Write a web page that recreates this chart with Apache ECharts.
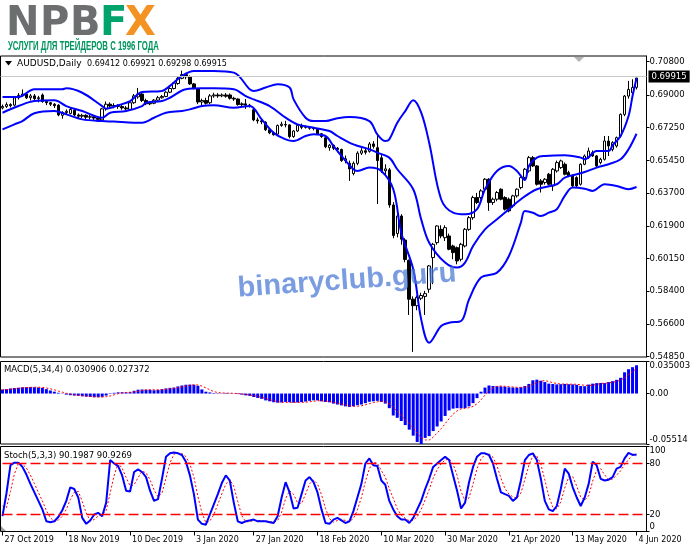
<!DOCTYPE html>
<html><head><meta charset="utf-8"><title>AUDUSD Daily</title>
<script src="https://cdn.jsdelivr.net/npm/echarts@6/dist/echarts.min.js"></script>
<style>html,body{margin:0;padding:0;background:#fff;overflow:hidden}#chart{width:691px;height:549px}</style>
</head><body><div id="chart"></div><script>
// ---------- data ----------
const tickLabels = ['27 Oct 2019','18 Nov 2019','10 Dec 2019','3 Jan 2020','27 Jan 2020','18 Feb 2020','10 Mar 2020','30 Mar 2020','21 Apr 2020','13 May 2020','4 Jun 2020'];
const tickIndex = [0,16,32,48,63,79,95,111,127,143,159];
const priceTicks = [0.5485,0.566,0.584,0.6015,0.619,0.637,0.6545,0.6725,0.690,0.708];
const macdTicks = [-0.05514,0,0.035003];
const macdTickText = ['-0.05514','0.00','0.035003'];
const stochTicks = [0,20,80,100];
const stochLevels = [20,80];
const lastClose = 0.69915;

const opens = [
.6830,.6838,.6848,.6845,.6885,.6898,.6905,.6885,.6895,.6880,
.6900,.6865,.6858,.6850,.6845,.6790,.6805,.6800,.6818,.6792,
.6785,.6790,.6780,.6782,.6775,.6765,.6825,.6850,.6840,.6843,
.6838,.6830,.6822,.6858,.6890,.6905,.6870,.6852,.6855,.6872,
.6885,.6892,.6915,.6935,.6962,.6990,.7010,.6998,.6960,.6932,
.6862,.6870,.6858,.6895,.6900,.6895,.6900,.6900,.6882,.6878,
.6848,.6852,.6845,.6820,.6765,.6760,.6752,.6712,.6695,.6688,
.6735,.6740,.6738,.6675,.6705,.6735,.6725,.6725,.6720,.6715,
.6690,.6668,.6615,.6628,.6612,.6605,.6545,.6530,.6475,.6530,
.6585,.6598,.6595,.6635,.6615,.6560,.6490,.6495,.6305,.6150,
.6245,.6115,.6005,.5795,.5760,.5800,.5810,.5849,.6020,.6101,
.6173,.6128,.6137,.6083,.6074,.6011,.6083,.6173,.6236,.6345,
.6345,.6390,.6444,.6318,.6336,.6390,.6345,.6336,.6300,.6354,
.6399,.6453,.6489,.6561,.6516,.6435,.6426,.6471,.6408,.6489,
.6507,.6525,.6480,.6462,.6453,.6417,.6525,.6561,.6588,.6570,
.6534,.6552,.6651,.6606,.6624,.6678,.6795,.6894,.6912,.69412];
const highs = [
.6848,.6860,.6855,.6895,.6910,.6930,.6915,.6905,.6905,.6895,
.6908,.6870,.6862,.6856,.6850,.6812,.6822,.6830,.6825,.6800,
.6798,.6795,.6792,.6790,.6782,.6830,.6865,.6860,.6855,.6850,
.6848,.6840,.6862,.6905,.6938,.6910,.6880,.6866,.6878,.6895,
.6900,.6920,.6942,.6970,.6998,.7032,.7018,.7005,.6965,.6935,
.6880,.6885,.6905,.6912,.6910,.6908,.6910,.6908,.6890,.6882,
.6860,.6878,.6852,.6825,.6778,.6770,.6758,.6718,.6702,.6740,
.6755,.6760,.6742,.6710,.6742,.6745,.6735,.6732,.6728,.6720,
.6695,.6672,.6635,.6632,.6618,.6610,.6572,.6545,.6540,.6595,
.6612,.6615,.6645,.6650,.6685,.6575,.6525,.6505,.6320,.6260,
.6255,.6125,.6010,.5810,.5815,.5830,.5840,.5980,.6100,.6195,
.6195,.6195,.6150,.6090,.6080,.6100,.6180,.6245,.6355,.6370,
.6390,.6450,.6450,.6345,.6380,.6395,.6352,.6345,.6360,.6395,
.6460,.6505,.6570,.6570,.6520,.6445,.6450,.6478,.6505,.6545,
.6550,.6535,.6490,.6470,.6460,.6530,.6578,.6615,.6600,.6575,
.6560,.6678,.6678,.6650,.6675,.6800,.6900,.6976,.6985,.69921];
const lows = [
.6822,.6830,.6832,.6838,.6875,.6890,.6878,.6870,.6865,.6860,
.6858,.6845,.6840,.6830,.6785,.6772,.6795,.6795,.6785,.6770,
.6775,.6770,.6768,.6765,.6755,.6755,.6815,.6830,.6828,.6825,
.6820,.6815,.6815,.6852,.6880,.6862,.6845,.6845,.6850,.6866,
.6880,.6888,.6910,.6930,.6955,.6985,.6985,.6955,.6930,.6850,
.6845,.6848,.6850,.6885,.6885,.6888,.6885,.6875,.6868,.6842,
.6840,.6825,.6832,.6758,.6745,.6742,.6705,.6688,.6680,.6683,
.6728,.6725,.6665,.6668,.6700,.6715,.6718,.6712,.6708,.6685,
.6668,.6612,.6598,.6602,.6590,.6538,.6530,.6435,.6465,.6520,
.6575,.6578,.6588,.6610,.6310,.6478,.6465,.6290,.6125,.6130,
.6090,.5995,.5710,.5510,.5735,.5790,.5710,.5830,.5876,.6090,
.6125,.6110,.6060,.6011,.5984,.6000,.6075,.6165,.6225,.6310,
.6335,.6380,.6273,.6305,.6325,.6330,.6275,.6265,.6290,.6345,
.6390,.6445,.6480,.6510,.6410,.6372,.6415,.6410,.6381,.6480,
.6500,.6465,.6455,.6400,.6400,.6410,.6520,.6555,.6565,.6510,
.6525,.6545,.6570,.6595,.6615,.6670,.6785,.6880,.6895,.69298];
const closes = [
.6838,.6848,.6842,.6885,.6898,.6905,.6885,.6895,.6880,.6885,
.6865,.6858,.6850,.6842,.6792,.6805,.6812,.6822,.6792,.6785,
.6790,.6780,.6782,.6775,.6768,.6825,.6850,.6840,.6843,.6838,
.6830,.6825,.6858,.6895,.6905,.6870,.6852,.6856,.6872,.6885,
.6892,.6915,.6935,.6965,.6990,.7010,.6998,.6960,.6935,.6862,
.6870,.6855,.6895,.6900,.6895,.6900,.6893,.6882,.6878,.6848,
.6852,.6845,.6840,.6765,.6760,.6755,.6712,.6695,.6685,.6735,
.6742,.6738,.6675,.6705,.6735,.6725,.6728,.6720,.6718,.6690,
.6675,.6620,.6628,.6612,.6605,.6545,.6555,.6500,.6530,.6585,
.6598,.6590,.6635,.6622,.6545,.6490,.6500,.6305,.6140,.6245,
.6120,.6010,.5795,.5760,.5805,.5815,.5825,.5975,.6092,.6191,
.6137,.6182,.6065,.6047,.6002,.6092,.6173,.6236,.6345,.6318,
.6381,.6444,.6318,.6336,.6372,.6336,.6282,.6273,.6354,.6390,
.6453,.6498,.6561,.6516,.6417,.6417,.6444,.6417,.6498,.6534,
.6543,.6471,.6462,.6408,.6408,.6525,.6570,.6597,.6570,.6516,
.6552,.6651,.6624,.6642,.6669,.6795,.6894,.6930,.6940,.69915];

// Bollinger bands, points: [bar index, price]
const upperBand = [[0,.6889],[4,.6889],[8,.6931],[12,.6931],[15,.6931],[16,.6936],[20,.6912],[25,.6840],[26,.6826],[29,.6844],[32,.6867],[35,.6916],[40,.6922],[42,.6949],[45,.7003],[48,.7030],[53,.7030],[58,.7021],[62,.6931],[63,.6922],[66,.6940],[69,.6958],[72,.6940],[73,.6876],[76,.6777],[78,.6759],[81,.6759],[84,.6774],[87,.6781],[92,.6759],[94,.6687],[96,.6651],[97,.6660],[99,.6750],[101,.6813],[103,.6871],[105,.6804],[107,.6642],[110,.6336],[113,.6263],[116,.6254],[119,.6282],[121,.6390],[124,.6489],[127,.6516],[129,.6489],[131,.6440],[132,.6516],[134,.6561],[136,.6570],[141,.6574],[145,.6561],[146,.6552],[149,.6597],[152,.6597],[153,.6628],[155,.6678],[157,.6786],[158,.6894],[159,.6990]];
const middleBand = [[0,.6804],[4,.6840],[8,.6867],[13,.6871],[16,.6840],[20,.6813],[25,.6777],[27,.6804],[31,.6813],[35,.6840],[36,.6858],[40,.6867],[42,.6885],[46,.6931],[50,.6936],[53,.6936],[58,.6931],[61,.6894],[63,.6876],[67,.6840],[71,.6777],[74,.6741],[78,.6723],[82,.6705],[84,.6678],[88,.6633],[92,.6606],[94,.6588],[97,.6561],[99,.6498],[103,.6390],[105,.6227],[107,.6101],[111,.5993],[114,.5966],[116,.5993],[118,.6083],[121,.6173],[124,.6227],[127,.6282],[130,.6336],[134,.6390],[139,.6417],[141,.6453],[144,.6471],[146,.6483],[149,.6507],[152,.6525],[155,.6552],[157,.6606],[159,.6690]];
const lowerBand = [[0,.6714],[3,.6741],[5,.6759],[8,.6801],[13,.6813],[16,.6795],[20,.6768],[25,.6759],[28,.6756],[33,.6750],[35,.6750],[38,.6777],[41,.6804],[45,.6813],[47,.6822],[50,.6840],[53,.6844],[58,.6831],[62,.6840],[65,.6768],[68,.6696],[71,.6660],[73,.6651],[76,.6678],[78,.6687],[81,.6678],[83,.6624],[85,.6570],[88,.6498],[89,.6489],[92,.6507],[95,.6489],[98,.6390],[100,.6155],[103,.5957],[105,.5686],[107,.5560],[110,.5650],[112,.5668],[115,.5677],[117,.5794],[120,.5912],[124,.5939],[127,.6029],[130,.6209],[131,.6272],[133,.6263],[135,.6245],[137,.6263],[139,.6282],[141,.6354],[143,.6399],[146,.6393],[148,.6381],[151,.6417],[154,.6408],[157,.6390],[159,.6402]];

const macdHist = [
.0044,.0048,.0055,.0060,.0063,.0068,.0069,.0070,.0069,.0066,
.0062,.0048,.0033,.0020,.0008,-.0003,-.0012,-.0018,-.0022,-.0025,
-.0030,-.0034,-.0038,-.0040,-.0040,-.0036,-.0022,-.0005,.0008,.0013,
.0014,.0013,.0015,.0030,.0042,.0044,.0042,.0040,.0036,.0040,
.0048,.0056,.0062,.0065,.0078,.0088,.0096,.0098,.0096,.0085,
.0045,.0020,.0012,.0006,.0004,.0003,.0005,.0003,-.0002,-.0006,
-.0012,-.0020,-.0025,-.0038,-.0048,-.0058,-.0075,-.0085,-.0095,-.0100,
-.0098,-.0092,-.0095,-.0100,-.0098,-.0093,-.0088,-.0080,-.0074,-.0075,
-.0085,-.0092,-.0096,-.0110,-.0120,-.0130,-.0140,-.0146,-.0140,-.0128,
-.0120,-.0105,-.0090,-.0085,-.0080,-.0092,-.0110,-.0160,-.0240,-.0265,
-.0300,-.0345,-.0395,-.0460,-.0530,-.05514,-.0485,-.0465,-.0410,-.0360,
-.0305,-.0245,-.0185,-.0165,-.0160,-.0162,-.0158,-.0140,-.0105,-.0050,
.0020,.0065,.0088,.0082,.0080,.0078,.0075,.0068,.0066,.0064,
.0070,.0082,.0105,.0145,.0152,.0140,.0125,.0108,.0104,.0100,
.0102,.0105,.0102,.0100,.0096,.0082,.0080,.0098,.0108,.0114,
.0116,.0114,.0125,.0135,.0150,.0172,.0232,.0266,.0288,.030906];
const macdSignal = [
.0040,.0043,.0047,.0052,.0057,.0062,.0065,.0068,.0069,.0069,
.0067,.0061,.0052,.0041,.0027,.0015,.0003,-.0006,-.0014,-.0019,
-.0024,-.0028,-.0032,-.0036,-.0038,-.0039,-.0035,-.0026,-.0014,-.0002,
.0008,.0012,.0014,.0018,.0025,.0033,.0040,.0042,.0041,.0040,
.0041,.0045,.0052,.0058,.0065,.0073,.0082,.0090,.0095,.0094,
.0081,.0062,.0041,.0021,.0011,.0006,.0005,.0004,.0002,.0000,
-.0004,-.0010,-.0016,-.0024,-.0033,-.0042,-.0055,-.0067,-.0078,-.0089,
-.0095,-.0096,-.0096,-.0096,-.0096,-.0097,-.0095,-.0090,-.0084,-.0079,
-.0079,-.0082,-.0087,-.0096,-.0105,-.0114,-.0125,-.0134,-.0139,-.0139,
-.0134,-.0123,-.0111,-.0100,-.0090,-.0087,-.0092,-.0111,-.0151,-.0194,
-.0241,-.0288,-.0326,-.0375,-.0433,-.0484,-.0507,-.0508,-.0478,-.0430,
-.0385,-.0330,-.0274,-.0225,-.0189,-.0168,-.0161,-.0155,-.0141,-.0113,
-.0069,-.0018,.0031,.0064,.0079,.0082,.0079,.0075,.0072,.0068,
.0067,.0071,.0080,.0101,.0121,.0136,.0141,.0131,.0119,.0109,
.0104,.0103,.0102,.0102,.0101,.0095,.0090,.0089,.0092,.0100,
.0109,.0113,.0117,.0123,.0131,.0146,.0172,.0205,.0240,.027372];

const stochMain = [
18,45,78,81,81,76,67,56,46,36,
26,12,11,12,17,25,36,52,50,40,
16,9,13,20,22,18,34,84,80,77,
66,48,47,70,73,70,64,48,36,38,
62,88,92,93,92,90,82,66,44,14,
9,8,20,32,44,57,66,60,34,12,
10,12,13,14,12,12,12,11,10,18,
40,58,46,27,28,44,60,64,58,46,
26,10,9,14,16,13,10,12,24,40,
56,80,86,78,77,60,55,36,26,18,
14,14,10,16,26,36,50,62,76,80,
84,88,84,66,48,27,34,58,76,88,
92,92,90,80,62,46,44,42,36,40,
60,84,90,92,84,62,36,26,24,30,
50,74,68,52,40,30,40,56,82,78,
62,60,61,64,74,76,86,92.4,90.2,90.1987];
const stochSignal = [
30,28,47,68,80,79.3,74.7,66.3,56.3,46,
36,24.7,16.3,11.7,13.3,18,26,37.7,46,47.3,
35.3,21.7,12.7,14,18.3,20,24.7,45.3,66,80.3,
74.3,63.7,53.7,55,63.3,71,69,60.7,49.3,40.7,
45.3,62.7,80.7,91,92.3,91.7,88,79.3,64,41.3,
22.3,10.3,12.3,20,32,44.3,55.7,61,53.3,35.3,
18.7,11.3,11.7,13,13,12.7,12,11.7,11,13,
22.7,38.7,48,43.7,33.7,33,44,56,60.7,56,
43.3,27.3,15,11,13,14.3,13,11.7,15.3,25.3,
40,58.7,74,81.3,80.3,71.7,64,50.3,39,26.7,
19.3,15.3,12.7,13.3,17.3,26,37.3,49.3,62.7,72.7,
80,84,85.3,79.3,66,47,36.3,39.7,56,74,
85.3,90.7,91.3,87.3,77.3,62.7,50.7,44,40.7,39.3,
45.3,61.3,78,88.7,88.7,79.3,60.7,41.3,28.7,26.7,
34.7,51.3,64,64.7,53.3,40.7,36.7,42,59.3,72,
74,66.7,61,61.7,66.3,71.3,78.7,84.8,89.5,90.9269];

// ---------- build ----------
const SLOTS = 162;
const slots = Array.from({length: SLOTS}, (_, i) => String(i));
const candles = opens.map((o, i) => [o, closes[i], lows[i], highs[i]]);
const FF = "'DejaVu Sans', sans-serif";
const FS = 8.5;

const isTick = (i) => tickIndex.indexOf(i) >= 0;
function xAx(gi, show) {
  return {
    type: 'category', gridIndex: gi, data: slots, boundaryGap: true,
    axisLine: {show: false},
    axisTick: {show: show, alignWithLabel: true, interval: isTick, length: 4, lineStyle: {color: '#000'}},
    axisLabel: {show: show, interval: isTick, align: 'left', color: '#000', fontFamily: FF, fontSize: 8, margin: 4, padding: [0,0,0,2],
      formatter: (v, i) => { const k = tickIndex.indexOf(i); return k >= 0 ? tickLabels[k] : ''; }},
    splitLine: {show: false}
  };
}
function yAx(gi, min, max, vals, fmt, extraLabel) {
  return {
    type: 'value', gridIndex: gi, position: 'right', min: min, max: max,
    axisLine: {show: true, lineStyle: {color: '#000', width: 1}},
    axisTick: {show: true, customValues: vals, length: 3, lineStyle: {color: '#000'}},
    axisLabel: Object.assign({customValues: vals, formatter: fmt, color: '#000', fontFamily: FF, fontSize: FS, margin: 3}, extraLabel || {}),
    splitLine: {show: false, lineStyle: {opacity: 0}},
    splitArea: {show: false}
  };
}
const gridBase = {show: true, borderColor: '#000', borderWidth: 1, backgroundColor: '#fff', containLabel: false, outerBoundsMode: 'none'};

function measure(text, font) {
  const c = document.createElement('canvas').getContext('2d');
  c.font = font; return c.measureText(text).width;
}
const subText = 'УСЛУГИ ДЛЯ ТРЕЙДЕРОВ С 1996 ГОДА';
const subFont = "bold 12px 'Liberation Sans', sans-serif";
const subScale = 151 / measure(subText, subFont);
const logoFont = "bold 40px 'DejaVu Sans', sans-serif";

// level lines of the stochastic window, one series per level, spanning the window
const levelSeries = stochLevels.map(v => ({
  type: 'line', xAxisIndex: 2, yAxisIndex: 2, data: [[0, v], [SLOTS - 1, v]],
  showSymbol: false, silent: true, z: 5, color: '#ff0000',
  lineStyle: {color: '#ff0000', width: 1.3, type: [10, 4]}
}));

const chart = echarts.init(document.getElementById('chart'), null, {renderer: 'canvas', width: 691, height: 549});
chart.setOption({
  animation: false,
  backgroundColor: '#fff',
  grid: [
    Object.assign({left: 0.5, width: 646, top: 56, height: 301}, gridBase),
    Object.assign({left: 0.5, width: 646, top: 361.5, height: 82.5}, gridBase),
    Object.assign({left: 0.5, width: 646, top: 446.5, height: 85}, gridBase)
  ],
  xAxis: [xAx(0, false), xAx(1, false), xAx(2, true)],
  yAxis: [
    yAx(0, 0.54823, 0.711084, priceTicks, (v) => v.toFixed(5)),
    yAx(1, -0.05514, 0.035003, macdTicks, (v) => macdTickText[macdTicks.indexOf(v)] || '', {verticalAlignMinLabel: 'bottom', verticalAlignMaxLabel: 'top'}),
    yAx(2, 0, 100, stochTicks, (v) => String(v), {verticalAlignMinLabel: 'bottom', verticalAlignMaxLabel: 'top'})
  ],
  series: [
    {type: 'candlestick', xAxisIndex: 0, yAxisIndex: 0, data: candles, barWidth: 3, z: 2,
      itemStyle: {color: '#fff', color0: '#000', borderColor: '#000', borderColor0: '#000', borderWidth: 1},
      markLine: {silent: true, symbol: ['none','none'], animation: false,
        lineStyle: {color: '#c8c8c8', width: 1, type: 'solid'},
        label: {show: true, position: 'end', formatter: () => lastClose.toFixed(5), color: '#fff', backgroundColor: '#000', padding: [2,3,1,3], fontFamily: FF, fontSize: FS, distance: 2},
        emphasis: {disabled: true},
        data: [{yAxis: lastClose}]}},
    {type: 'line', xAxisIndex: 0, yAxisIndex: 0, data: upperBand, showSymbol: false, smooth: 0.35, z: 3, lineStyle: {color: '#0000ff', width: 2}},
    {type: 'line', xAxisIndex: 0, yAxisIndex: 0, data: middleBand, showSymbol: false, smooth: 0.35, z: 3, lineStyle: {color: '#0000ff', width: 2}},
    {type: 'line', xAxisIndex: 0, yAxisIndex: 0, data: lowerBand, showSymbol: false, smooth: 0.35, z: 3, lineStyle: {color: '#0000ff', width: 2}},
    {type: 'bar', xAxisIndex: 1, yAxisIndex: 1, data: macdHist, barWidth: 3, itemStyle: {color: '#0000ff'}},
    {type: 'line', xAxisIndex: 1, yAxisIndex: 1, data: macdSignal, showSymbol: false, z: 3, lineStyle: {color: '#ff0000', width: 1, type: [2,2]}},
    {type: 'line', xAxisIndex: 2, yAxisIndex: 2, data: stochMain, showSymbol: false, z: 3, color: '#0000ff', lineStyle: {color: '#0000ff', width: 2}},
    {type: 'line', xAxisIndex: 2, yAxisIndex: 2, data: stochSignal, showSymbol: false, z: 2, color: '#ff0000', lineStyle: {color: '#ff0000', width: 1, type: [2,2]}}
  ].concat(levelSeries),
  graphic: [
    {type: 'text', left: 6, top: 5, style: {text: 'N', font: logoFont, fill: '#6d6e70'}},
    {type: 'text', left: 40, top: 5, style: {text: 'P', font: logoFont, fill: '#6d6e70'}},
    {type: 'text', left: 70, top: 5, style: {text: 'B', font: logoFont, fill: '#6d6e70'}},
    {type: 'text', left: 100, top: 5, style: {text: 'F', font: logoFont, fill: '#00a36c'}},
    {type: 'text', left: 125, top: 5, style: {text: 'X', font: logoFont, fill: '#f39323'}},
    {type: 'text', x: 8, y: 47, scaleX: subScale, style: {text: subText, font: subFont, fill: '#00955e', textVerticalAlign: 'middle'}},
    {type: 'polygon', shape: {points: [[5,61],[12,61],[8.5,65.5]]}, style: {fill: '#000'}},
    {type: 'text', x: 17, y: 63.5, style: {text: 'AUDUSD,Daily', font: "9px " + FF, fill: '#000', textVerticalAlign: 'middle'}},
    {type: 'text', x: 87, y: 63.5, style: {text: '0.69412 0.69921 0.69298 0.69915', font: "8px " + FF, fill: '#000', textVerticalAlign: 'middle'}},
    {type: 'text', x: 4, y: 370, style: {text: 'MACD(5,34,4) 0.030906 0.027372', font: FS + "px " + FF, fill: '#000', textVerticalAlign: 'middle'}},
    {type: 'text', x: 4, y: 456, style: {text: 'Stoch(5,3,3) 90.1987 90.9269', font: FS + "px " + FF, fill: '#000', textVerticalAlign: 'middle'}},
    {type: 'polygon', shape: {points: [[574,57],[584,57],[579,62]]}, style: {fill: '#b4b4b4'}},
    {type: 'polygon', shape: {points: [[1,526],[1,531],[6,531]]}, style: {fill: '#a0a0a0'}},
    {type: 'text', x: 347, y: 281, rotation: 0.07, z: 100, style: {text: 'binaryclub.guru', font: "bold 29px 'Liberation Sans', sans-serif", fill: 'rgba(70,118,212,0.72)', textAlign: 'center', textVerticalAlign: 'middle'}}
  ]
});
</script></body></html>
